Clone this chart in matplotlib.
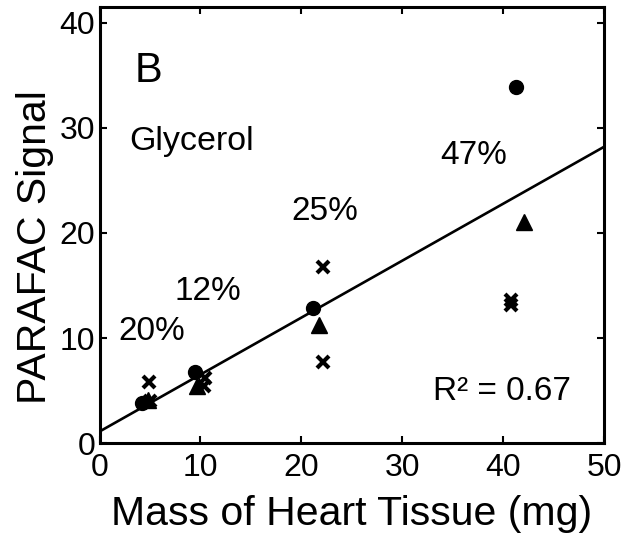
import numpy as np
import matplotlib
matplotlib.use("Agg")
import matplotlib.pyplot as plt

plt.rcParams['font.family'] = ['Liberation Sans', 'DejaVu Sans']

# mass of heart tissue (mg) and PARAFAC signal
mass_circle = [4.2, 9.5, 21.2, 41.3]
signal_circle = [3.8, 6.8, 12.9, 33.9]
mass_triangle = [4.8, 9.7, 21.7, 42.1]
signal_triangle = [4.1, 5.4, 11.2, 21.0]
mass_cross = [4.9, 5.0, 10.5, 10.4, 22.1, 22.1, 40.8, 40.8]
signal_cross = [5.8, 4.0, 6.2, 5.4, 16.8, 7.7, 13.6, 13.1]

# linear fit shown on the plot
fit_slope = 0.542
fit_intercept = 1.1
r_squared = 0.67

pct_labels = ["20%", "12%", "25%", "47%"]
pct_x = [5.2, 10.7, 22.3, 37.1]
pct_y = [10.6, 14.4, 22.0, 27.4]

fig = plt.figure(figsize=(6.26, 5.41), dpi=100)
ax = fig.add_axes([0.159, 0.181, 0.806, 0.806])

xfit = np.array([0, 50])
ax.plot(xfit, fit_slope * xfit + fit_intercept, color='black', lw=1.9, zorder=1)

ax.plot(mass_circle, signal_circle, 'o', color='black', ms=10, zorder=3)
ax.plot(mass_triangle, signal_triangle, '^', color='black', ms=11, zorder=3)
ax.plot(mass_cross, signal_cross, 'x', color='black', ms=9, mew=3, zorder=3)

for lab, x, y in zip(pct_labels, pct_x, pct_y):
    ax.text(x, y, lab, fontsize=24, ha='center', va='center')

ax.text(3.5, 34.4, "B", fontsize=30, ha='left', va='baseline')
ax.text(2.9, 27.9, "Glycerol", fontsize=24.5, ha='left', va='baseline')
ax.text(39.9, 4.9, "R² = %.2f" % r_squared, fontsize=24, ha='center', va='center')

ax.set_xlim(0, 50)
ax.set_ylim(0, 41.5)
ax.set_xticks([0, 10, 20, 30, 40, 50])
ax.set_yticks([0, 10, 20, 30, 40])
ax.tick_params(direction='in', length=5, width=1.5, labelsize=23,
               top=True, right=True)
ax.tick_params(axis='x', pad=7)
ax.tick_params(axis='y', pad=3)
for sp in ax.spines.values():
    sp.set_linewidth(2.2)

ax.set_xlabel("Mass of Heart Tissue (mg)", fontsize=29.5, labelpad=9)
ax.set_ylabel("PARAFAC Signal", fontsize=29.5, labelpad=4)
ax.yaxis.set_label_coords(-0.09, 0.45)

fig.savefig("out.png", dpi=100)
